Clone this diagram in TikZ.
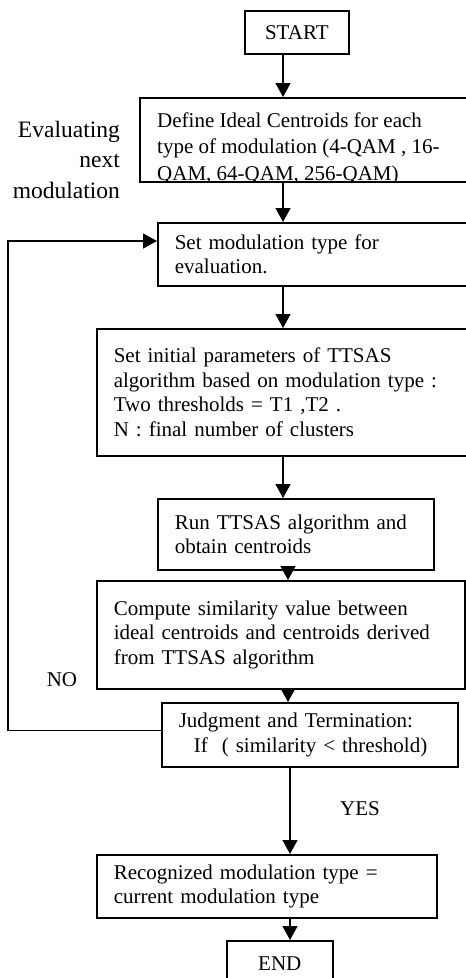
\documentclass[tikz,border=0pt]{standalone}
\usepackage{fontspec}
\setmainfont{Liberation Serif}
\usetikzlibrary{arrows.meta,calc}

\begin{document}
\begin{tikzpicture}[x=1pt, y=-1pt,
	box/.style={draw, line width=1.6pt, anchor=north west, inner xsep=17pt, inner ysep=0pt, align=left, font=\fontsize{21}{24.5}\selectfont},
	arr/.style={line width=1.3pt, -{Triangle[width=15pt,length=14pt]}},
	lbl/.style={font=\fontsize{21}{24.5}\selectfont}]
	\useasboundingbox (0,0) rectangle (466,978);

	\node[box, align=center, inner xsep=0pt, minimum width=104pt, minimum height=43pt] (start) at (244,10) {START};
	\node[box, minimum width=327pt, minimum height=84pt] (define) at (139,97) {};
	\begin{scope}
		\clip (define.north west) rectangle (define.south east);
		\node[anchor=north west, align=left, inner sep=0pt, font=\fontsize{21}{26.5}\selectfont] (definetext) at ([xshift=18pt,yshift=-15.5pt]define.north west)
			{Define Ideal Centroids for each\\type of modulation (4-QAM , 16-\\QAM, 64-QAM, 256-QAM)};
	\end{scope}
	\node[box, text width=275pt, minimum width=309pt, minimum height=63pt] (setmod) at (157,222) {Set modulation type for\\evaluation.};
	\node[box, text width=336pt, minimum width=370pt, minimum height=127pt] (params) at (96,328)
		{Set initial parameters of TTSAS\\algorithm based on modulation type :\\Two thresholds = T1 ,T2 .\\N : final number of clusters};
	\node[box, text width=242pt, minimum width=276pt, minimum height=71pt] (run) at (157,498) {Run TTSAS algorithm and\\obtain centroids};
	\node[box, text width=334pt, minimum width=368pt, minimum height=108pt] (compute) at (96,580)
		{Compute similarity value between\\ideal centroids and centroids derived\\from TTSAS algorithm};
	\node[box, text width=262pt, minimum width=296pt, minimum height=64pt] (judge) at (161,702)
		{Judgment and Termination:\\\hspace*{15pt}If~~( similarity < threshold)};
	\node[box, text width=306pt, minimum width=340pt, minimum height=63pt] (recog) at (96,854) {Recognized modulation type =\\current modulation type};
	\node[box, align=center, inner xsep=0pt, minimum width=106pt, minimum height=45pt] (end) at (226,940) {END};

	\node[anchor=east, align=right, inner sep=0pt, font=\fontsize{23.5}{30.5}\selectfont] (evalnext) at (120,159.5) {Evaluating\\next\\modulation};
	\node[lbl] (no) at (62,680) {NO};
	\node[lbl] (yes) at (360,809) {YES};

	\coordinate (colA) at (283,0);
	\coordinate (colB) at (288,0);
	\coordinate (colC) at (290,0);
	\foreach \a/\b/\c in {start/define/colA, define/setmod/colA, setmod/params/colA, params/run/colA,
		run/compute/colB, compute/judge/colB, judge/recog/colC, recog/end/colC}
		\draw[arr] (\a.south -| \c) -- (\b.north -| \c);

	% back to the next modulation
	\coordinate (loop) at (8,241);
	\draw[arr] ([yshift=4pt]judge.west) -| (loop) -- (loop -| setmod.west);
\end{tikzpicture}
\end{document}
